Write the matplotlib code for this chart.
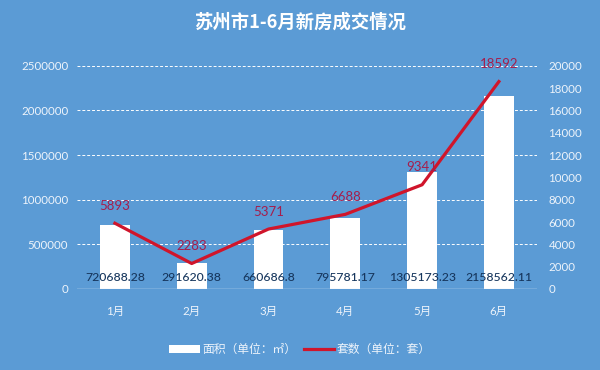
import numpy as np
import matplotlib
matplotlib.use("Agg")
import matplotlib.pyplot as plt

plt.rcParams['font.family'] = ['Lato', 'Noto Sans CJK SC', 'DejaVu Sans']

# data
months = ['1月', '2月', '3月', '4月', '5月', '6月']
area = [720688.28, 291620.38, 660686.8, 795781.17, 1305173.23, 2158562.11]
area_labels = ['720688.28', '291620.38', '660686.8', '795781.17', '1305173.23', '2158562.11']
units = [5893, 2283, 5371, 6688, 9341, 18592]

bg = '#5b9bd5'
txt = '#eef4fb'

fig = plt.figure(figsize=(6, 3.7), dpi=100, facecolor=bg)
ax = fig.add_axes([0.1275, 0.219, 0.768, 0.603])
ax.set_facecolor(bg)
x = np.arange(len(months))

# bars - area
bars = ax.bar(x, area, width=0.39, color='white', zorder=2, label='面积（单位：㎡）')
ax.set_ylim(0, 2500000)
ax.set_xlim(-0.5, len(months) - 0.5)
ax.set_yticks(np.arange(0, 2500001, 500000))
ax.set_yticklabels([str(v) for v in range(0, 2500001, 500000)])
for yv in range(500000, 2500001, 500000):
    ax.axhline(yv, color='white', lw=0.7, ls=(0, (3, 2)), zorder=1)
ax.axhline(0, color='#dfeaf6', lw=1.0, zorder=3)
for i, lab in enumerate(area_labels):
    ax.text(x[i], 125000, lab, ha='center', va='center', fontsize=8.8,
            color='#17375e', fontweight='medium', zorder=5)

ax.set_xticks(x)
ax.set_xticklabels(months, color=txt, fontsize=8.5)
ax.tick_params(axis='both', length=0, colors=txt, labelsize=8.3)
ax.tick_params(axis='x', pad=12)
ax.tick_params(axis='y', pad=6)
for s in ax.spines.values():
    s.set_visible(False)

# line - units, secondary axis
ax2 = ax.twinx()
ln, = ax2.plot(x, units, color='#d0152b', lw=2.3, zorder=4, label='套数（单位：套）')
ax2.set_ylim(0, 20000)
ax2.set_yticks(np.arange(0, 20001, 2000))
ax2.tick_params(axis='y', length=0, colors=txt, labelsize=8.3, pad=8)
for s in ax2.spines.values():
    s.set_visible(False)
for i, v in enumerate(units):
    ax2.text(x[i], v + 1550, str(v), ha='center', va='center', fontsize=9.5,
             color='#a51d4c', zorder=6)

fig.text(0.5, 0.94, '苏州市1-6月新房成交情况', ha='center', va='center',
         fontsize=13.2, fontweight='bold', color='white', family=['Noto Sans CJK SC'])

leg = fig.legend(handles=[bars, ln], loc='center', bbox_to_anchor=(0.5, 0.055),
                 ncol=2, frameon=False, fontsize=8.5, handlelength=2.6,
                 columnspacing=0.6, handletextpad=0.2,
                 prop={'family': ['Noto Sans CJK SC'], 'size': 8.5})
for t in leg.get_texts():
    t.set_color(txt)

fig.savefig('out.png', dpi=100, facecolor=bg)
